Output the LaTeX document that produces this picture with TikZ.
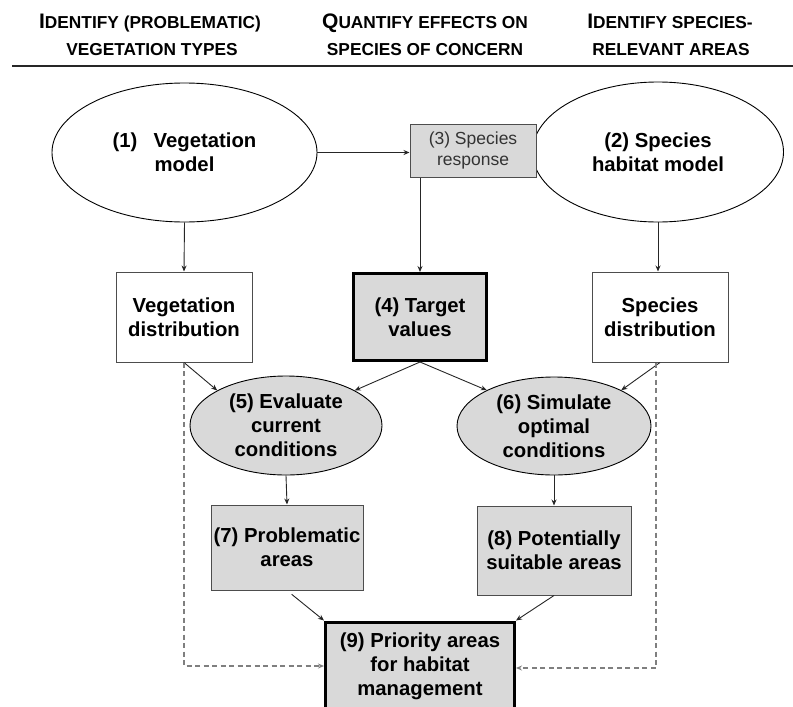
\documentclass[tikz,border=0pt]{standalone}
\usepackage{fontspec}
\setmainfont{Liberation Sans}
\usetikzlibrary{shapes.geometric,arrows.meta}
\definecolor{boxgray}{HTML}{D9D9D9}
\definecolor{bordergray}{HTML}{4D4D4D}
\definecolor{dashgray}{HTML}{7F7F7F}
\newcommand\bigc[1]{{\fontsize{21}{24}\selectfont #1}}
\begin{document}
\begin{tikzpicture}[x=1pt,y=-1pt,
  hdr/.style={font=\fontsize{17.3}{20}\selectfont\bfseries, anchor=base, inner sep=0pt},
  txt/.style={font=\fontsize{20.3}{23.8}\selectfont\bfseries, align=center, text=black},
  ell/.style={ellipse, draw=black, line width=0.9pt, inner sep=0pt, txt},
  wbox/.style={rectangle, draw=bordergray, line width=1pt, fill=white, inner sep=0pt, txt},
  gbox/.style={rectangle, draw=bordergray, line width=1pt, fill=boxgray, inner sep=0pt, txt},
  tbox/.style={rectangle, draw=black, line width=3pt, fill=boxgray, inner sep=0pt, txt},
  arr/.style={-{Stealth[length=6pt,width=5pt]}, line width=0.9pt, draw=black!85},
  dasharr/.style={-{Stealth[length=6pt,width=5pt]}, line width=1.2pt, draw=dashgray, dash pattern=on 5pt off 3.5pt}
]
\useasboundingbox (0,0) rectangle (793,707);
% header
\node[hdr] (h1a) at (150,28) {\bigc{I}DENTIFY (PROBLEMATIC)};
\node[hdr] (h1b) at (152,55) {VEGETATION TYPES};
\node[hdr] (h2a) at (425,28) {\bigc{Q}UANTIFY EFFECTS ON};
\node[hdr] (h2b) at (425,55) {SPECIES OF CONCERN};
\node[hdr] (h3a) at (670,28) {\bigc{I}DENTIFY SPECIES-};
\node[hdr] (h3b) at (671,55) {RELEVANT AREAS};
\coordinate (rl) at (12,66);
\coordinate (rr) at (793,66);
\draw[line width=1.2pt, black!85] (rl) -- (rr);
% nodes
\node[ell, minimum width=265, minimum height=139] (e1) at (184.5,152.5) {(1)\hspace{0.8em}Vegetation\\model};
\node[ell, minimum width=251, minimum height=140] (e2) at (658,152) {(2) Species\\habitat model};
\node[gbox, minimum width=126, minimum height=53, font=\fontsize{17.5}{21}\selectfont, text=black!80] (b3) at (473,150.5) {(3) Species\\response};
\node[wbox, minimum width=136, minimum height=90] (vd) at (184,317) {Vegetation\\distribution};
\node[tbox, minimum width=133, minimum height=87] (b4) at (420,317) {(4) Target\\values};
\node[wbox, minimum width=136, minimum height=90] (sd) at (660,317) {Species\\distribution};
\node[ell, fill=boxgray, minimum width=192, minimum height=99] (e5) at (286,425.5) {(5) Evaluate\\current\\conditions};
\node[ell, fill=boxgray, minimum width=194, minimum height=98] (e6) at (554,426) {(6) Simulate\\optimal\\conditions};
\node[gbox, minimum width=152, minimum height=85] (b7) at (287,547.5) {(7) Problematic\\areas};
\node[gbox, minimum width=154, minimum height=89] (b8) at (554,550.5) {(8) Potentially\\suitable areas};
\node[tbox, minimum width=189, minimum height=88] (b9) at (420,666) {(9) Priority areas\\for habitat\\management};
% connectors
\draw[arr] (e1.east) -- (e1.east -| b3.west);
\draw[arr] (b4.north |- b3.south) -- (b4.north);
\draw[arr] (e1.south) -- (vd.north);
\draw[arr] (e2.south) -- (e2.south |- sd.north);
\draw[arr] (vd.south) -- (e5.153);
\draw[arr] (b4.south) -- (e5.27);
\draw[arr] (b4.south) -- (e6.152);
\draw[arr] (sd.south) -- (e6.28);
\draw[arr] (e5.south) -- (b7.north);
\draw[arr] (e6.south) -- (b8.north);
\draw[arr, shorten <=6pt] (b7.south) -- (b9.north west);
\draw[arr] (b8.south) -- (b9.north east);
\draw[dasharr] (vd.south) |- (b9.west);
\draw[dasharr] ([xshift=-4pt]sd.south) |- ([yshift=-2pt]b9.east);
\end{tikzpicture}
\end{document}
